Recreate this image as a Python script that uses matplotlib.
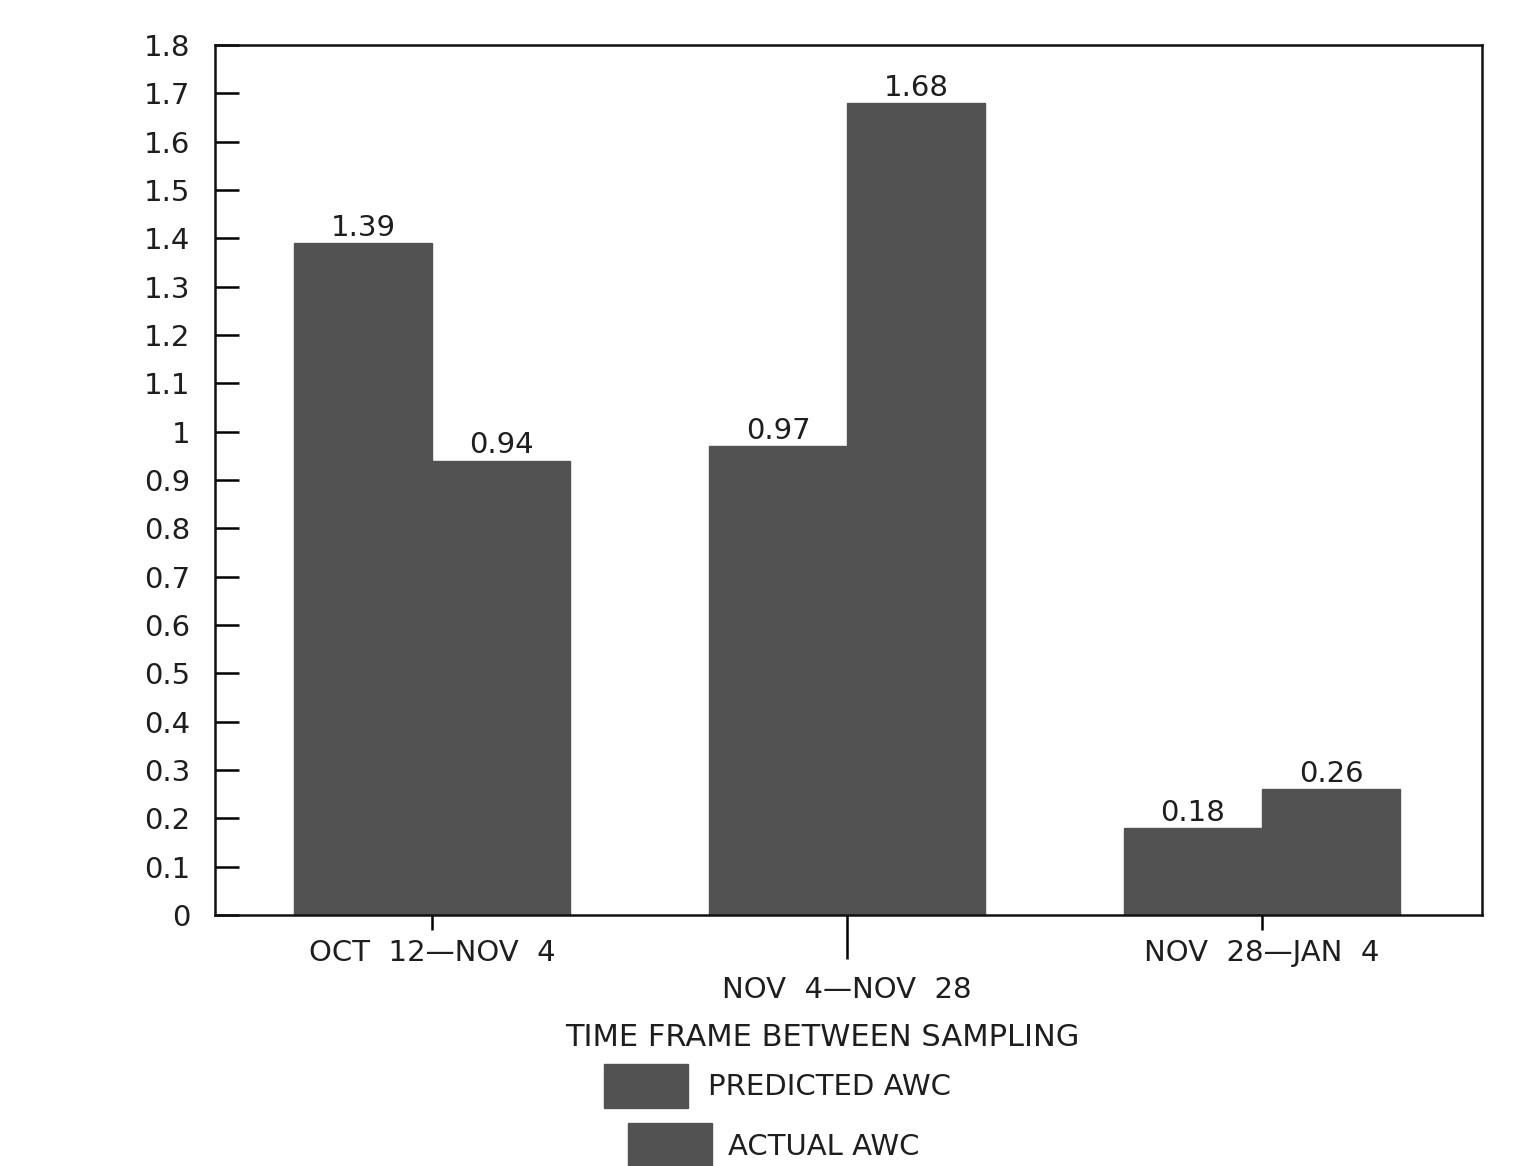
import matplotlib
matplotlib.use("Agg")
import matplotlib.pyplot as plt
from matplotlib.patches import Rectangle
import numpy as np

categories = ["OCT  12\u2014NOV  4", "NOV  4\u2014NOV  28", "NOV  28\u2014JAN  4"]
predicted = [1.39, 0.97, 0.18]
actual = [0.94, 1.68, 0.26]
yticks = [0, 0.1, 0.2, 0.3, 0.4, 0.5, 0.6, 0.7, 0.8, 0.9, 1, 1.1, 1.2, 1.3, 1.4, 1.5, 1.6, 1.7, 1.8]
ytick_labels = ["0", "0.1", "0.2", "0.3", "0.4", "0.5", "0.6", "0.7", "0.8", "0.9", "1",
                "1.1", "1.2", "1.3", "1.4", "1.5", "1.6", "1.7", "1.8"]
series_names = ["PREDICTED AWC", "ACTUAL AWC"]

plt.rcParams['font.family'] = ['DejaVu Sans']
bar_color = "#525252"
text_color = "#1e1e1e"
fs = 21

fig = plt.figure(figsize=(15.38, 11.66), dpi=100)
ax = fig.add_axes([0.1398, 0.2153, 0.8238, 0.7461])

x = np.arange(len(categories))
w = 0.333
ax.bar(x - w / 2, predicted, width=w, color=bar_color, edgecolor=bar_color)
ax.bar(x + w / 2, actual, width=w, color=bar_color, edgecolor=bar_color)

for xi, v in zip(x - w / 2, predicted):
    ax.text(xi, v + 0.003, f"{v:.2f}", ha="center", va="bottom", fontsize=fs, color=text_color)
for xi, v in zip(x + w / 2, actual):
    ax.text(xi, v + 0.003, f"{v:.2f}", ha="center", va="bottom", fontsize=fs, color=text_color)

ax.set_xlim(-0.523, 2.530)
ax.set_ylim(0, 1.8)
ax.set_yticks(yticks)
ax.set_yticklabels(ytick_labels, fontsize=fs, color=text_color)
ax.tick_params(axis="y", direction="in", length=17, width=1.8, pad=18)

ax.set_xticks(x)
ax.set_xticklabels(categories, fontsize=fs, color=text_color)
ax.tick_params(axis="x", direction="out", length=11, width=1.8, pad=6)
# staggered middle label with a longer tick
xt = ax.get_xaxis().get_major_ticks()
xt[1].set_pad(33)
xt[1].tick1line.set_markersize(32)

for s in ax.spines.values():
    s.set_linewidth(1.8)
    s.set_color("#111111")

fig.text(0.5345, 1 - 1037 / 1166, "TIME FRAME BETWEEN SAMPLING", ha="center", va="center",
         fontsize=fs + 1, color=text_color)

# legend
W, H = 1538.0, 1166.0
entries = [(604, 1064, 708, 1087), (628, 1123, 728, 1147)]
for (px, py, tx, ty), name in zip(entries, series_names):
    fig.patches.append(Rectangle((px / W, 1 - (py + 44) / H), 84 / W, 44 / H,
                                 transform=fig.transFigure, color=bar_color))
    fig.text(tx / W, 1 - ty / H, name, ha="left", va="center", fontsize=fs, color=text_color)

fig.savefig("out.png", dpi=100, facecolor="white")
